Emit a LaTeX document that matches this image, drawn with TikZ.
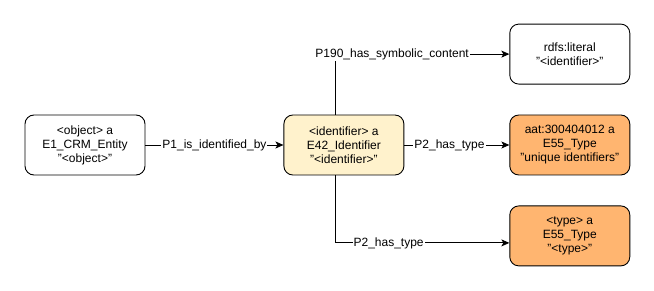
\documentclass[tikz,border=0pt]{standalone}
\usepackage{fontspec}
\setmainfont{Liberation Sans}
\usepackage{xcolor}
\usetikzlibrary{arrows.meta,positioning}
\definecolor{idyellow}{HTML}{FFF2CC}
\definecolor{typeorange}{HTML}{FFB570}
\definecolor{lineblack}{HTML}{000000}

\begin{document}
\begin{tikzpicture}[
    x=1pt, y=1pt,
    entity/.style={rectangle, rounded corners=9pt, draw=lineblack, fill=white, line width=0.9pt, minimum width=120pt, minimum height=60pt, align=center, inner sep=2pt, font=\fontsize{12}{14}\selectfont},
    arr/.style={-{Stealth[length=8pt, width=7pt, inset=2pt]}, line width=0.8pt, draw=lineblack},
    lbl/.style={fill=white, inner sep=1pt, font=\fontsize{12}{14}\selectfont}
]
    \useasboundingbox (0,0) rectangle (654,-291);

    % Subject
    \node (obj) [entity] at (85,-145) {<object> a\\E1\_CRM\_Entity\\"<object>"};

    % Identifier
    \node (ident) [entity, right=138pt of obj, fill=idyellow] {<identifier> a\\E42\_Identifier\\"<identifier>"};

    % Targets
    \node (aat) [entity, right=105pt of ident, fill=typeorange] {aat:300404012 a\\E55\_Type\\"unique identifiers"};
    \node (lit) [entity, above=30pt of aat] {rdfs:literal\\"<identifier>"};
    \node (tp) [entity, below=30pt of aat, fill=typeorange] {<type> a\\E55\_Type\\"<type>"};

    % Connectors
    \draw[arr] (obj) -- node[lbl] {P1\_is\_identified\_by} (ident);
    \draw[arr] (ident) -- node[lbl, pos=0.43] {P2\_has\_type} (aat);
    \draw[arr] ([xshift=-9pt]ident.north) |- node[lbl, pos=0.664] {P190\_has\_symbolic\_content} (lit.west);
    \draw[arr] ([xshift=-9pt]ident.south) |- node[lbl, pos=0.654] {P2\_has\_type} ([yshift=-7pt]tp.west);
\end{tikzpicture}
\end{document}
